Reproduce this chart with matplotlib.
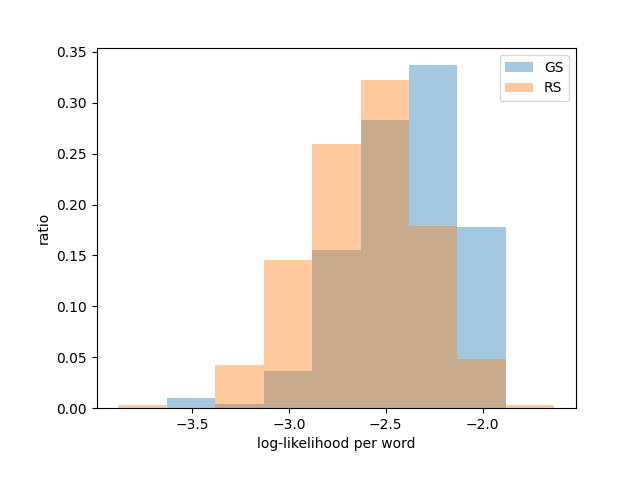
import numpy as np
import matplotlib
matplotlib.use("Agg")
import matplotlib.pyplot as plt

# межі бінів (log-likelihood per word)
bin_lo = -3.88
bin_hi = -1.63
n_bins = 9

gs_ratio = [0.0, 0.0098, 0.004, 0.036, 0.155, 0.283, 0.337, 0.178, 0.0]
rs_ratio = [0.0033, 0.0, 0.042, 0.145, 0.2596, 0.3225, 0.179, 0.048, 0.003]

edges = np.linspace(bin_lo, bin_hi, n_bins + 1)
centers = (edges[:-1] + edges[1:]) / 2

fig = plt.figure(figsize=(6.4, 4.8), dpi=100)
fig.subplots_adjust(left=0.151, right=0.9, bottom=0.15, top=0.9)
ax = fig.add_subplot(111)

ax.hist(centers, bins=edges, weights=gs_ratio, alpha=0.4, label='GS')
ax.hist(centers, bins=edges, weights=rs_ratio, alpha=0.4, label='RS')

ax.set_xlabel('log-likelihood per word')
ax.set_ylabel('ratio')
ax.legend(loc='upper right')

fig.savefig('out.png', dpi=100)
